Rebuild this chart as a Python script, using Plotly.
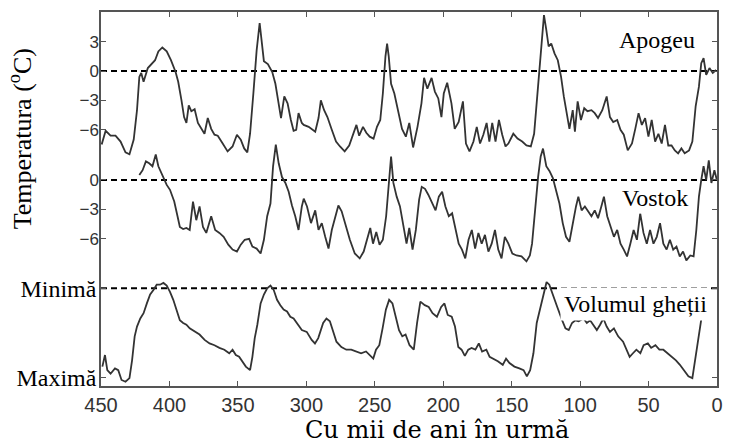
import plotly.graph_objects as go

# ---------------- data ----------------
apogeu_kyr = [449.5, 446.6, 443, 439.4, 435.7, 432.1, 429.2, 426.1, 423.7, 422, 420.6, 418.9, 415.8, 412.9, 410.5,
              408.1, 405.2, 402, 398.9, 395.5, 393.6, 391.2, 389.3, 387.6, 385.9, 384, 381.6, 379.2, 376.3, 374.4,
              372, 369.5, 367.1, 364.7, 361.1, 357.5, 353.9, 350.7, 347.9, 345.4, 343.1, 341.1, 338.7, 336.3, 334.1,
              332.4, 331, 328.1, 324.9, 322.6, 320.2, 318.5, 316.1, 313.7, 311.3, 309.3, 307.4, 305.7, 303.3,
              301.9, 298.3, 293.5, 291.1, 289.4, 287, 284.6, 281.4, 278.3, 275.4, 272, 268.7, 265.8, 263.4, 261.4,
              258.6, 256.2, 253.7, 250.9, 248.4, 246, 244.1, 242.2, 241, 239.8, 238.1, 235.7, 233.3, 230.1, 227.3,
              224.8, 222, 218.8, 215.9, 214, 211.6, 208.5, 206.1, 203.6, 201.3, 199.6, 197.1, 194, 191.6, 188.7,
              185.6, 183.4, 180.8, 177.9, 175.5, 173.1, 170.7, 168.3, 166.3, 164.2, 161.8, 159.3, 156.9, 154.5,
              152.4, 148.8, 145.7, 142.3, 139.2, 136, 133.6, 131.2, 128.8, 126.4, 124.7, 123, 121.1, 118.7, 116.3,
              113.9, 111.9, 109.5, 107.8, 105.4, 103.8, 101.8, 99.4, 97, 94.6, 91.7, 89.3, 86.9, 83.8, 80.6, 78.2,
              75.8, 72.9, 70.5, 68.1, 65.2, 62.1, 59.7, 57.3, 54.9, 52.5, 50.1, 47.7, 45.2, 42.8, 40.4, 38, 35.6,
              33.2, 30.8, 28.4, 26, 23.6, 20.4, 18, 15.6, 13.2, 11.5, 9.8, 7.9, 5.5, 3.1, 0.7]
apogeu_temp = [-7.5, -6.1, -6.6, -6.6, -7.2, -8.3, -8.5, -7.0, -4.0, -0.6, -0.2, -1.1, 0.3, 0.7, 1.1,
               2.0, 2.4, 2.0, 1.1, -0.1, -1.1, -3.0, -4.7, -5.3, -3.5, -4.1, -3.9, -5.3, -6.0, -6.4,
               -4.8, -5.9, -6.5, -6.6, -7.4, -8.2, -7.7, -6.5, -7.0, -7.9, -8.3, -6.4, -2.3, 2.1, 4.9,
               2.8, 1.0, 0.7, -0.1, -1.3, -3.5, -4.8, -2.6, -3.3, -5.0, -6.1, -6.0, -4.3, -5.3,
               -5.5, -5.7, -6.2, -4.8, -3.0, -4.0, -4.7, -6.0, -7.2, -7.7, -8.2, -7.6, -6.5, -5.5, -6.6,
               -5.7, -6.3, -6.7, -6.9, -5.7, -5.0, -2.3, 1.5, 2.8, 1.5, -1.3, -2.3, -4.0, -5.9, -6.7,
               -5.3, -7.8, -5.7, -3.3, -0.7, -1.8, -0.7, -2.1, -2.8, -4.7, -2.3, -1.2, -3.3, -5.9, -5.2,
               -3.1, -7.4, -8.2, -7.2, -5.7, -7.4, -6.5, -5.3, -7.2, -5.3, -7.2, -5.0, -6.5, -7.7,
               -7.4, -6.4, -6.9, -7.2, -7.6, -7.7, -6.4, -2.3, 2.1, 5.7, 4.2, 2.5, 2.8, 1.8, 1.1,
               -0.6, -2.6, -4.7, -5.9, -4.0, -6.2, -3.1, -5.0, -3.8, -4.1, -4.0, -4.3, -4.8, -4.0, -2.6, -4.7,
               -5.2, -5.0, -6.0, -6.5, -8.1, -7.4, -5.9, -4.3, -5.5, -4.8, -6.7, -5.0, -7.2, -6.4, -7.4, -5.5, -7.6,
               -7.6, -8.1, -8.4, -7.9, -8.4, -8.1, -7.2, -3.6, -1.6, 0.8, 1.3, -0.4, 0.3, -0.2, 0.1]

vostok_kyr = [422, 419.6, 417.2, 414.8, 412.4, 410, 408.1, 405.2, 402, 399.6, 396.5, 394.1, 392.4, 390, 387.6,
              385.2, 382.8, 380.4, 378, 375.5, 373.1, 369.5, 366.6, 363.5, 360.4, 357, 353.9, 350.7, 347.9, 345,
              341.8, 339.4, 336.3, 333.4, 331, 328.6, 326.2, 324.3, 322.3, 320.2, 317.8, 315.3, 312.9, 310.5,
              308.1, 305.7, 303.3,
              301.9, 299.5, 296.6, 293.5, 291.1, 288.7, 286.2, 283.8, 281.4, 279, 276.6, 274.2, 271.8, 268.2,
              264.6, 261, 258.1, 254.9, 253.3, 251.3, 248.9, 246.5, 244.1, 241.7, 239.8, 238.1, 236.4, 234, 231.6,
              229.2, 226.8, 224.8, 222.4, 220, 217.6, 215.7, 213.3, 210.9, 208, 205.6, 203.2, 200.8, 198.4, 195.9,
              193.5, 191.1, 188.7, 186.3, 183.9, 181.5, 179.1, 176.7, 174.3, 171.9, 169.5, 167, 164.6, 162.2,
              159.8, 157.4, 155,
              152.4, 149.5, 146.4, 142.8, 139.2, 136.7, 135.1, 133.1, 130.7, 128.8, 127.1, 124.7, 122.3, 119.9,
              117.5, 115.1, 112.7, 110.3, 107.8, 105.4, 103, 101.3, 98.9, 96.5, 94.1, 91.7, 89.3, 86.9, 84.5, 82.6,
              80.2, 77.8, 75.3, 72.9, 70.5, 68.1, 65.7, 63.3, 60.9, 58.5, 56.1, 53.7, 51.3, 48.9, 46.4, 44, 41.6,
              39.2, 36.8, 34.4, 32, 29.6, 27.2, 24.8, 22.4, 19.5, 17.1, 15.1, 13.2, 11.5, 9.8, 7.9, 6, 4.1, 1.9, 0.1]
vostok_temp = [0.5, 1.0, 1.9, 1.7, 1.4, 2.6, 1.4, 0.5, -0.5, -1.0, -2.2, -3.7, -4.8, -5.0, -4.9,
               -5.1, -2.2, -4.1, -2.7, -4.8, -5.4, -3.7, -5.1, -5.4, -5.8, -6.6, -7.1, -7.3, -6.6, -6.1,
               -6.0, -6.8, -7.0, -7.5, -6.1, -3.7, -2.4, 1.4, 3.6, 1.7, 0.3, -0.3, -1.2, -2.6,
               -3.7, -5.1, -2.7,
               -1.9, -2.7, -4.4, -3.1, -5.1, -4.4, -5.8, -7.0, -5.1, -3.7, -2.6, -3.2, -4.4, -6.1,
               -7.5, -8.0, -7.3, -5.8, -4.9, -6.5, -5.3, -6.6, -6.1, -3.7, -0.7, 2.4, -0.3, -1.7, -2.7,
               -4.4, -6.5, -4.9, -7.1, -5.1, -2.0, -0.7, -0.9, -1.5, -2.4, -3.1, -1.7, -1.2, -2.7, -3.7,
               -3.4, -5.1, -6.5, -7.1, -8.0, -6.1, -5.1, -7.0, -5.4, -6.5, -5.6, -7.3, -6.5, -5.1,
               -7.1, -8.0, -5.8,
               -6.5, -7.5, -7.7, -7.8, -8.3, -7.7, -6.5, -3.1, 0.3, 2.4, 3.2, 1.4, 0.9, 0.2,
               -1.0, -2.4, -4.4, -5.8, -6.3, -4.4, -2.7, -1.7, -3.1, -2.7, -3.2, -3.7, -3.1, -3.9, -2.7, -1.7,
               -3.7, -4.8, -5.8, -5.1, -6.5, -7.1, -7.8, -6.5, -5.1, -6.1, -3.4, -5.4, -6.5, -5.1, -6.5, -5.8, -4.4,
               -6.5, -7.1, -6.1, -7.1, -6.8, -7.8, -7.3, -8.2, -7.7, -7.8, -5.1, -1.7, 0.0, 1.4, 0.0, 2.0, -0.3, 1.0, 0.0]

# ice volume, 0 = maximum, 1 = minimum
ice_kyr = [449, 447.1, 445.4, 443, 439.8, 437.4, 435, 432.1, 429.2, 427.3, 425.4, 423.7, 421.3, 418.9, 416.5,
           414.1, 411.7, 409.3, 406.9, 404.4, 402, 399.6, 397.2, 394.8, 392.4, 390, 387.6, 385.2, 381.6, 378,
           374.3, 370.7, 367.1, 363.5, 359.9, 356.3, 353.9, 351.5, 349.1, 346.7, 344.2, 341.1, 339.4, 337.7,
           335.8, 333.4, 331, 328.6, 326.2, 323.8, 321.4, 319, 316.6, 314.1, 311.7, 309.3, 306.9, 303.3, 299.7,
           296.1, 293.7, 291.3, 287.7, 285.3, 282.8, 280.4, 278, 274.4, 270.8, 267.2, 263.6, 260, 256.4, 253.5,
           251.1, 249.1, 246.7, 244.3, 241.9, 239.5, 237.1, 234.7, 232.3, 229.9, 227.5, 224.6, 221.5, 219.1,
           216.7, 213.5, 210.6, 207.8, 204.6, 201.5, 199.1, 196.7, 193.8, 191.4, 189, 186.6, 184.2, 181.7, 179.3,
           176.5, 174, 171.6, 168.5, 166.1, 163.7, 160.1, 156.5, 154.1, 151.6, 148, 144.4, 141.3, 138.9, 136.5,
           134.1, 131.7, 130, 128.3, 126.4, 124.5, 122.5, 120.3, 116.7, 113.1, 110.7, 108.3, 105.9, 103.5, 101.1,
           97.5, 95.1, 92.7, 90.2, 87.8, 85.4, 83, 80.6, 78.2, 75.3, 72.2, 68.6, 66.2, 63.8, 61.4, 58.9, 56, 53.6,
           50.5, 48.1, 45, 42.1, 39.2, 36.1, 32.9, 30, 27.1, 24, 20.9, 18, 15.6, 13.2, 10.8]
ice_level = [0.12, 0.25, 0.08, 0.04, 0.10, 0.08, -0.03, -0.05, -0.01, 0.19, 0.46, 0.57, 0.66, 0.72, 0.83,
             0.93, 0.98, 1.04, 1.04, 1.06, 1.03, 0.96, 0.87, 0.76, 0.64, 0.61, 0.59, 0.55, 0.51, 0.48,
             0.42, 0.38, 0.36, 0.33, 0.31, 0.27, 0.31, 0.25, 0.23, 0.18, 0.12, 0.08, 0.23, 0.44,
             0.59, 0.83, 0.93, 1.0, 1.03, 0.98, 0.87, 0.81, 0.76, 0.74, 0.68, 0.66, 0.61, 0.53, 0.51,
             0.42, 0.38, 0.44, 0.61, 0.66, 0.63, 0.51, 0.40, 0.34, 0.31, 0.31, 0.29, 0.27, 0.29, 0.25,
             0.21, 0.31, 0.36, 0.55, 0.76, 0.87, 0.83, 0.68, 0.53, 0.46, 0.48, 0.36, 0.31, 0.61,
             0.85, 0.81, 0.79, 0.72, 0.68, 0.79, 0.83, 0.70, 0.68, 0.57, 0.34, 0.31, 0.24, 0.31, 0.33,
             0.31, 0.38, 0.29, 0.31, 0.23, 0.21, 0.18, 0.14, 0.21, 0.16, 0.12, 0.10, 0.08, 0.01, 0.08,
             0.27, 0.61, 0.72, 0.83, 0.98, 1.07, 1.04, 0.94, 0.79, 0.64, 0.55, 0.53, 0.61, 0.64, 0.63,
             0.66, 0.61, 0.64, 0.59, 0.53, 0.59, 0.66, 0.57, 0.51, 0.55, 0.46, 0.40, 0.31, 0.23, 0.27, 0.31, 0.27, 0.36,
             0.38, 0.33, 0.36, 0.31, 0.31, 0.27, 0.23, 0.19, 0.14, 0.08, 0.01, -0.01, 0.23, 0.49, 0.72]

x_ticks = [450, 400, 350, 300, 250, 200, 150, 100, 50, 0]
temp_ticks_apogeu = [3, 0, -3, -6]
temp_ticks_vostok = [0, -3, -6]
ice_tick_vals = [1, 0]
ice_tick_text = ["Minimă", "Maximă"]

# ---------------- figure ----------------
LINE = "#333333"
FRAME = "#555555"
SERIF = "Liberation Serif, Times New Roman, serif"
WIDE_SERIF = "DejaVu Serif, serif"
SANS = "Liberation Sans, Arial, sans-serif"

fig = go.Figure()
fig.add_trace(go.Scatter(x=apogeu_kyr, y=apogeu_temp, mode="lines", yaxis="y",
                         line=dict(color=LINE, width=1.8), showlegend=False))
fig.add_trace(go.Scatter(x=vostok_kyr, y=vostok_temp, mode="lines", yaxis="y2",
                         line=dict(color=LINE, width=1.8), showlegend=False))
fig.add_trace(go.Scatter(x=ice_kyr, y=ice_level, mode="lines", yaxis="y3",
                         line=dict(color=LINE, width=1.8), showlegend=False))

dash = dict(color="black", width=2, dash="6px,4px")
fig.add_shape(type="line", xref="paper", x0=0, x1=1, yref="y", y0=0, y1=0, line=dash, layer="below")
fig.add_shape(type="line", xref="paper", x0=0, x1=1, yref="y2", y0=0, y1=0, line=dash, layer="below")
fig.add_shape(type="line", xref="paper", x0=0, x1=1, yref="y3", y0=1, y1=1, line=dash, layer="below")

common_y = dict(showgrid=False, zeroline=False, showline=True, linecolor=FRAME, linewidth=1.5,
                mirror="ticks", ticks="inside", ticklen=5, tickcolor=FRAME, tickwidth=1.2)

fig.update_layout(
    width=733, height=446,
    margin=dict(l=101, r=10, t=12, b=60),
    paper_bgcolor="white", plot_bgcolor="white",
    xaxis=dict(range=[450, 0], tickvals=x_ticks, ticks="inside", ticklen=5, tickcolor=FRAME,
               tickwidth=1.2, showline=True, linecolor=FRAME, linewidth=1.5, mirror="ticks",
               showgrid=False, zeroline=False, tickfont=dict(family=SANS, size=20, color="#333333")),
    yaxis=dict(range=[-32.14, 6.02], tickvals=temp_ticks_apogeu, ticklabelstandoff=-3,
               tickfont=dict(family=SANS, size=17, color="#333333"), **common_y),
    yaxis2=dict(range=[-21.02, 17.14], tickvals=temp_ticks_vostok, overlaying="y", side="left",
                anchor="x", ticklabelstandoff=-3,
                tickfont=dict(family=SANS, size=17, color="#333333"), **common_y),
    yaxis3=dict(range=[-0.098, 4.104], tickvals=ice_tick_vals, ticktext=ice_tick_text,
                overlaying="y", side="left", anchor="x", ticklabelstandoff=-2,
                tickfont=dict(family=SERIF, size=24, color="black"), **common_y),
)

lab = dict(showarrow=False, xref="paper", yref="paper", xanchor="center", yanchor="middle",
           font=dict(family=SERIF, size=24, color="black"))
fig.add_annotation(text="Apogeu", x=0.902, y=0.926, bgcolor="white", borderpad=6, **lab)
fig.add_annotation(text="Vostok", x=0.9, y=0.503, bgcolor="white", borderpad=2, **lab)
fig.add_annotation(text="Volumul gheții", x=0.868, y=0.219, bgcolor="white", borderpad=3, **lab)
fig.add_annotation(text="Temperatura (<sup>o</sup>C)", x=-0.13, y=0.662, textangle=-90,
                   showarrow=False, xref="paper", yref="paper", xanchor="center", yanchor="middle",
                   font=dict(family=SERIF, size=26, color="black"))
fig.add_annotation(text="Cu mii de ani în urmă", x=0.545, y=-0.118,
                   showarrow=False, xref="paper", yref="paper", xanchor="center", yanchor="middle",
                   font=dict(family=WIDE_SERIF, size=24, color="black"))

fig.write_html("out.html", config={"displayModeBar": False},
               post_script="document.body.style.margin='0px';document.body.style.overflow='hidden';")
